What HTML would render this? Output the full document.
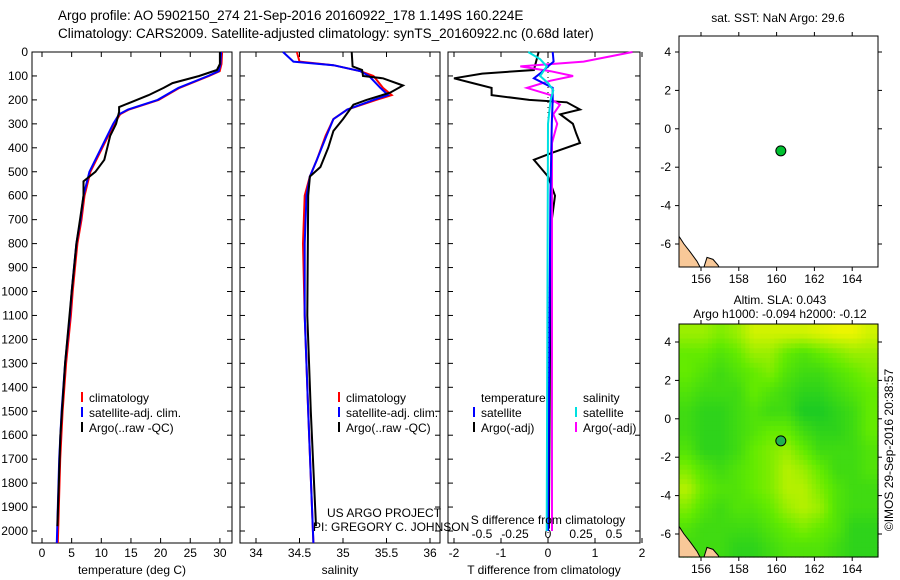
<!DOCTYPE html>
<html><head><meta charset="utf-8"><style>
body{margin:0;background:#fff;}
svg{display:block;font-family:"Liberation Sans",sans-serif;}
</style></head><body>
<svg id="c" width="900" height="580" xmlns="http://www.w3.org/2000/svg"></svg>
<script>
// ---- data ----
const tDepth = [0,50,80,100,150,200,240,260,300,400,500,600,700,800,900,1000,1100,1300,1500,1700,2050];
const tClim  = [30.2,30.1,29.8,28,23,19.5,14.5,13,12,10,8,7,6.5,5.8,5.4,5,4.7,3.9,3.3,2.9,2.5];
const tArgoDepth = [0,50,75,100,130,150,180,210,230,250,300,350,450,500,540,600,700,800,1000,1300,1600,1980];
const tArgo      = [30,30,29.5,26.5,22,20.5,18,15,13,13,12.5,11.5,10.5,9,7,7,6.4,5.8,5,3.9,3.1,2.6];
const sDepth = [0,40,55,80,100,150,180,200,240,280,350,450,520,600,800,1100,1500,2050];
const sSat   = [34.31,34.43,34.89,35.2,35.3,35.43,35.52,35.35,35.05,34.89,34.81,34.7,34.62,34.58,34.56,34.56,34.6,34.66];
const sClim  = [34.47,34.5,34.89,35.2,35.35,35.46,35.56,35.38,35.05,34.89,34.8,34.7,34.62,34.56,34.54,34.56,34.6,34.66];
const sArgoDepth = [0,60,75,100,110,140,170,200,220,280,330,400,480,520,600,1100,1500,1980];
const sArgo      = [35.1,35.11,35.22,35.23,35.46,35.69,35.54,35.27,35.12,35.0,34.89,34.83,34.74,34.62,34.6,34.59,34.63,34.69];
const dtDepth = [0,75,90,110,130,150,180,200,210,240,260,300,340,380,420,450,480,520,600,700,1000,1990];
const dtArgo  = [-0.2,-0.3,-1.4,-2.0,-1.6,-1.2,-1.2,-0.4,0.4,0.68,0.26,0.53,0.6,0.68,0.1,-0.3,-0.17,0,0.15,0.08,0.05,0.02];
const dsDepth = [0,40,60,80,100,120,150,180,200,220,260,300,380,500,2000];
const dsArgo  = [0.64,0.27,-0.21,0.02,0.19,0.02,-0.16,0.02,0.03,0.09,0.04,0.07,0.03,0.03,0.03];
const dtSatDepth = [0,40,60,90,110,150,200,300,600,2000];
const dtSat      = [0.1,0.12,0.0,-0.17,-0.3,0.1,0.1,0.08,0.05,0];
const dsSatDepth = [0,30,60,100,130,160,200,300,2000];
const dsSat      = [-0.15,-0.06,-0.01,-0.06,0,0.04,0.02,0.0,-0.01];
const depthTicks = [0,100,200,300,400,500,600,700,800,900,1000,1100,1200,1300,1400,1500,1600,1700,1800,1900,2000];
const tTicks = [0,5,10,15,20,25,30];
const sTicks = [34,34.5,35,35.5,36];
const dtTicks = [-2,-1,0,1,2];
const dsTicks = [-0.5,-0.25,0,0.25,0.5];
const lonTicks = [156,158,160,162,164];
const latTicks = [4,2,0,-2,-4,-6];
const argoLon = 160.224, argoLat = -1.149;
const slaGrid = [
[0.7,0.7,0.6,0.7,0.9,0.9,0.9,0.9,0.95,1,1,0.9],
[0.5,0.5,0.4,0.5,0.7,0.7,0.5,0.4,0.5,0.6,0.7,0.7],
[0.5,0.4,0.3,0.4,0.5,0.6,0.4,0.3,0.3,0.4,0.5,0.6],
[0.4,0.3,0.3,0.3,0.5,0.4,0.3,0.2,0.2,0.3,0.4,0.5],
[0.3,0.2,0.2,0.3,0.4,0.3,0.3,0.1,0.1,0.2,0.3,0.5],
[0.3,0.2,0.2,0.3,0.4,0.5,0.5,0.3,0.2,0.2,0.3,0.5],
[0.4,0.2,0.2,0.3,0.5,0.6,0.7,0.5,0.3,0.3,0.3,0.4],
[0.6,0.4,0.3,0.4,0.5,0.6,0.8,0.7,0.5,0.3,0.3,0.4],
[0.8,0.5,0.4,0.4,0.5,0.6,0.8,0.8,0.6,0.4,0.3,0.3],
[0.6,0.4,0.3,0.4,0.4,0.5,0.7,0.8,0.7,0.4,0.3,0.3],
[0.4,0.3,0.3,0.3,0.3,0.4,0.5,0.6,0.5,0.4,0.2,0.2],
[0.3,0.3,0.3,0.2,0.2,0.3,0.4,0.4,0.4,0.3,0.2,0.2]];

// ---- helpers ----
const svg = document.getElementById('c');
const NS='http://www.w3.org/2000/svg';
function mk(tag, attrs, parent){const e=document.createElementNS(NS,tag);for(const k in attrs)e.setAttribute(k,attrs[k]);(parent||svg).appendChild(e);return e;}
function txt(x,y,s,size,anchor,parent){const e=mk('text',{x:x,y:y,'font-size':size||12,'text-anchor':anchor||'start',fill:'#000'},parent);e.textContent=s;return e;}
const Y = d => 52 + d*0.2395;
const Xt = v => 42 + v*5.93;
const Xs = v => 256 + (v-34)*87;
const Xdt = v => 548 + v*47;
const Xds = v => 548 + v*132;
const LX = lon => 701 + (lon-156)*18.9;
const LY1 = lat => 52 + (4-lat)*19.2;
const LY2 = lat => 342 + (4-lat)*19.2;

function line(xs, ds, xf, color, w, name){
  const pts = xs.map((v,i)=>xf(v).toFixed(1)+','+Y(ds[i]).toFixed(1)).join(' ');
  const p = mk('polyline',{points:pts,fill:'none',stroke:color,'stroke-width':w||2});
  
  
}
function frame(x0,x1,y0,y1,name){
  const r=mk('rect',{x:x0,y:y0,width:x1-x0,height:y1-y0,fill:'none',stroke:'#000','stroke-width':1});
  
  
}
function depthAxis(x0,x1,labels){
  depthTicks.forEach(d=>{
    mk('line',{x1:x0,x2:x0+5,y1:Y(d),y2:Y(d),stroke:'#000'});
    mk('line',{x1:x1,x2:x1-5,y1:Y(d),y2:Y(d),stroke:'#000'});
    if(labels){const t=txt(x0-4,Y(d)+4,String(d),12,'end');
      
      }
  });
}
function xAxis(ticks,xf,y0,y1,ly,name){
  ticks.forEach(v=>{
    mk('line',{x1:xf(v),x2:xf(v),y1:y1,y2:y1-5,stroke:'#000'});
    mk('line',{x1:xf(v),x2:xf(v),y1:y0,y2:y0+5,stroke:'#000'});
    if(ly){const t=txt(xf(v),ly,String(v),12,'middle');
      
      }
  });
}

// titles
let t=txt(58,20,'Argo profile: AO 5902150_274 21-Sep-2016 20160922_178 1.149S 160.224E',13.5);

t=txt(58,38,'Climatology: CARS2009. Satellite-adjusted climatology: synTS_20160922.nc (0.68d later)',13.5);


// panel 1 temperature
frame(32,232,52,543,'temperature-panel');
depthAxis(32,232,true);
xAxis(tTicks,Xt,52,543,557,'temperature-tick-label');
t=txt(132,574,'temperature (deg C)',12,'middle');
line(tClim,tDepth,v=>Xt(v)+1,'#ff0000',2,'temperature-climatology-line');
line(tClim,tDepth,Xt,'#0000ff',2,'temperature-satellite-line');
line(tArgo,tArgoDepth,Xt,'#000',2,'temperature-argo-line');

// panel 2 salinity
frame(240,440,52,543,'salinity-panel');
depthAxis(240,440,false);
xAxis(sTicks,Xs,52,543,557,'salinity-tick-label');
t=txt(340,574,'salinity',12,'middle');
line(sClim,sDepth,Xs,'#ff0000',2,'salinity-climatology-line');
line(sSat,sDepth,Xs,'#0000ff',2,'salinity-satellite-line');
line(sArgo,sArgoDepth,Xs,'#000',2,'salinity-argo-line');

// legends
function legend(x,y,items,pre){
  items.forEach((it,i)=>{
    mk('line',{x1:x,x2:x,y1:y+i*15-10,y2:y+i*15,stroke:it[0],'stroke-width':2});
    const e=txt(x+7,y+i*15,it[1],12);
    
    
  });
}
legend(82,402,[['#ff0000','climatology'],['#0000ff','satellite-adj. clim.'],['#000','Argo(..raw -QC)']],'temperature');
legend(339,402,[['#ff0000','climatology'],['#0000ff','satellite-adj. clim.'],['#000','Argo(..raw -QC)']],'salinity');
t=txt(327,517,'US ARGO PROJECT',12);
t=txt(313,531,'PI: GREGORY C. JOHNSON',12);

// panel 3 differences
frame(448,640,52,543,'difference-panel');
depthAxis(448,640,false);
xAxis(dtTicks,Xdt,52,543,557,'t-difference-tick-label');
dsTicks.forEach(v=>{const e=txt(Xds(v),538,String(v),12,'middle');
  });
mk('line',{x1:548,x2:548,y1:52,y2:543,stroke:'#000','stroke-dasharray':'1,4'});
line(dtArgo,dtDepth,Xdt,'#000',2,'t-difference-argo-line');
line(dsArgo,dsDepth,Xds,'#ff00ff',2,'s-difference-argo-line');
line(dtSat,dtSatDepth,Xdt,'#0000ff',2,'t-difference-satellite-line');
line(dsSat,dsSatDepth,Xds,'#00e0e0',2,'s-difference-satellite-line');
t=txt(548,524,'S difference from climatology',12,'middle');
t=txt(544,574,'T difference from climatology',12,'middle');
t=txt(481,402,'temperature',12);
t=txt(583,402,'salinity',12);
legend(474,417,[['#0000ff','satellite'],['#000','Argo(-adj)']],'t-difference');
legend(576,417,[['#00e0e0','satellite'],['#ff00ff','Argo(-adj)']],'s-difference');

// maps
function mapAxes(y0,y1,LY,pre){
  lonTicks.forEach(v=>{
    mk('line',{x1:LX(v),x2:LX(v),y1:y0,y2:y0-4,stroke:'#000'});
    mk('line',{x1:LX(v),x2:LX(v),y1:y1,y2:y1+4,stroke:'#000'});
    const e=txt(LX(v),y1+16,String(v),12,'middle');
    
  });
  latTicks.forEach(v=>{
    mk('line',{x1:679,x2:675,y1:LY(v),y2:LY(v),stroke:'#000'});
    mk('line',{x1:878,x2:882,y1:LY(v),y2:LY(v),stroke:'#000'});
    const e=txt(671,LY(v)+4,String(v),12,'end');
    
  });
}
function land(LY,y1,name){
  const p=mk('path',{d:`M679 ${LY(-5.6)} L684 ${LY(-6)} L690 ${LY(-6.4)} L697 ${LY(-6.9)} L700 ${y1} L679 ${y1} Z M704 ${y1} L707 ${LY(-6.7)} L713 ${LY(-6.8)} L718 ${LY(-7.1)} L719 ${y1} Z`,fill:'#f8c898',stroke:'#000','stroke-width':1});
  
}
// map 1
t=txt(778,22,'sat. SST: NaN Argo: 29.6',12,'middle');
mk('rect',{x:679,y:36,width:199,height:231,fill:'#fff'});
land(LY1,267,'sst-map-land');
frame(679,878,36,267,'sst-map');
mapAxes(36,267,LY1,'sst-map');
let dot=mk('circle',{cx:LX(argoLon),cy:LY1(argoLat),r:5,fill:'#00c030',stroke:'#000'});


// map 2 heatmap (bilinear upsampled from grid)
t=txt(780,304,'Altim. SLA: 0.043',12,'middle');
t=txt(780,318,'Argo h1000: -0.094 h2000: -0.12',12,'middle');
function col(v){
  let r,g,b;
  if(v<0.5){const f=v/0.5;r=10+90*f;g=195+40*f;b=45-45*f;}
  else{const f=(v-0.5)/0.5;r=100+135*f;g=235+10*f;b=0;}
  return `rgb(${r|0},${g|0},${b|0})`;
}
const NR=slaGrid.length, NC=slaGrid[0].length, UP=4;
function sample(fi,fj){
  fi=Math.max(0,Math.min(NR-1,fi));fj=Math.max(0,Math.min(NC-1,fj));
  const i0=Math.floor(fi),j0=Math.floor(fj),i1=Math.min(NR-1,i0+1),j1=Math.min(NC-1,j0+1);
  const a=fi-i0,b=fj-j0;
  return slaGrid[i0][j0]*(1-a)*(1-b)+slaGrid[i0][j1]*(1-a)*b+slaGrid[i1][j0]*a*(1-b)+slaGrid[i1][j1]*a*b;
}
const mx0=679,my0=324,mw=199,mh=233;
const cw=mw/(NC*UP), ch=mh/(NR*UP);
for(let i=0;i<NR*UP;i++){for(let j=0;j<NC*UP;j++){
  const v=sample((i+0.5)/UP-0.5,(j+0.5)/UP-0.5);
  const c=mk('rect',{x:(mx0+j*cw).toFixed(2),y:(my0+i*ch).toFixed(2),width:(cw+0.6).toFixed(2),height:(ch+0.6).toFixed(2),fill:col(v)});
  
  
}}
land(LY2,557,'sla-map-land');
frame(679,878,324,557,'sla-map');
mapAxes(324,557,LY2,'sla-map');
dot=mk('circle',{cx:LX(argoLon),cy:LY2(argoLat),r:5,fill:'#20b050',stroke:'#000'});

t=txt(0,0,'©IMOS 29-Sep-2016 20:38:57',12,'middle');
t.setAttribute('transform','translate(893,450) rotate(-90)');

</script>
</body></html>
